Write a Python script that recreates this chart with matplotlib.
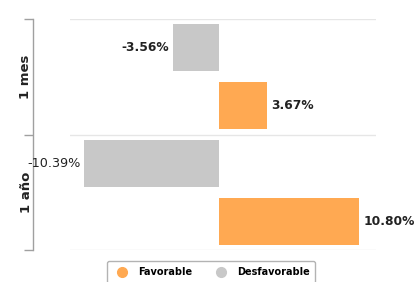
import matplotlib
matplotlib.use('Agg')
import matplotlib.pyplot as plt
from matplotlib.lines import Line2D
import numpy as np

periods = ['1 mes', '1 año']
favorable = [3.67, 10.80]
desfavorable = [-3.56, -10.39]

orange = '#FFA952'
gray = '#C8C8C8'

fig = plt.figure(figsize=(4.17, 2.82), dpi=100)
ax = fig.add_axes([70/417, 32/282, 306/417, 231/282])

pos = np.arange(len(periods))
h = 0.405
ax.barh(pos + 0.25, desfavorable, height=h, color=gray, zorder=3)
ax.barh(pos + 0.75, favorable, height=h, color=orange, zorder=3)

for i in range(len(periods)):
    ax.text(desfavorable[i] - 0.3, pos[i] + 0.25, '%.2f%%' % desfavorable[i],
            ha='right', va='center', fontsize=8.8 if i == 0 else 9.2,
            fontweight='bold' if i == 0 else 'normal', color='#222222',
            zorder=4, clip_on=False)
    ax.text(favorable[i] + 0.35, pos[i] + 0.75, '%.2f%%' % favorable[i],
            ha='left', va='center', fontsize=8.8, fontweight='bold',
            color='#222222', zorder=4, clip_on=False)

ax.set_xlim(-11.5, 12.1)
ax.set_ylim(len(periods), 0)
ax.set_xticks([])

# horizontal grid lines at category boundaries
for y in range(len(periods) + 1):
    ax.axhline(y, color='#E6E6E6', lw=1, zorder=1)

for s in ['top', 'right', 'bottom']:
    ax.spines[s].set_visible(False)
ax.spines['left'].set_position(('outward', 27))
ax.spines['left'].set_color('#A0A0A0')
ax.spines['left'].set_linewidth(1)
ax.set_yticks(np.arange(len(periods) + 1))
ax.set_yticklabels([])
ax.tick_params(axis='y', which='major', length=6.5, color='#A0A0A0', width=1)
ax.set_yticks(pos + 0.5, minor=True)
ax.set_yticklabels(periods, minor=True, rotation=90, va='center',
                   fontsize=9.5, fontweight='bold', color='#222222')
ax.tick_params(axis='y', which='minor', length=0, pad=0)

handles = [Line2D([], [], marker='o', ls='', color=orange, markersize=7),
           Line2D([], [], marker='o', ls='', color=gray, markersize=7)]
leg = fig.legend(handles, ['Favorable', 'Desfavorable'], loc='lower center',
                 bbox_to_anchor=(211/417, -6/282), ncol=2, frameon=True,
                 prop={'size': 7, 'weight': 'bold'}, handletextpad=0.6,
                 columnspacing=2.0, borderpad=0.6, fancybox=True)
leg.get_frame().set_edgecolor('#A0A0A0')
leg.get_frame().set_linewidth(1)

fig.savefig('out.png', dpi=100)
